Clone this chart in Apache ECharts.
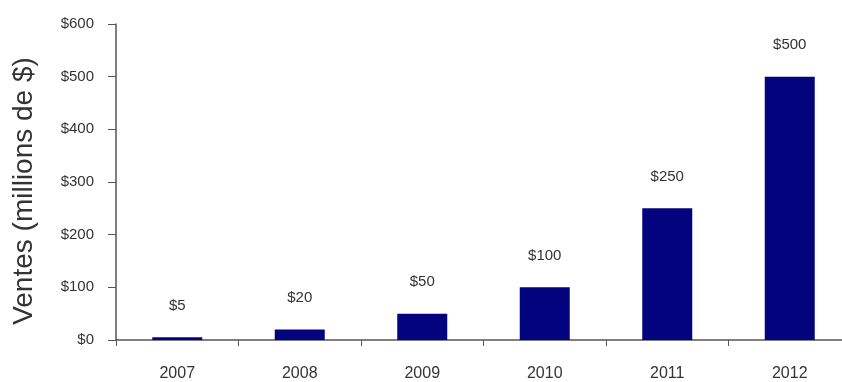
<!DOCTYPE html>
<html>
<head>
<meta charset="utf-8">
<script src="https://cdn.jsdelivr.net/npm/echarts@6/dist/echarts.min.js"></script>
<style>
  html, body { margin: 0; padding: 0; background: #fff; }
  #main { width: 842px; height: 382px; }
</style>
</head>
<body>
<div id="main"></div>
<script>
// ventes annuelles, en millions de $
const years = ['2007', '2008', '2009', '2010', '2011', '2012']
const sales = [5, 20, 50, 100, 250, 500]
const yTicks = [0, 100, 200, 300, 400, 500, 600]

const chart = echarts.init(document.getElementById('main'))
const font = '"Liberation Sans", Arial, sans-serif'

chart.setOption({
    backgroundColor: '#ffffff',
    animation: false,
    grid: {
        left: 116,
        top: 24,
        height: 316,
        width: 735,
        containLabel: false,
        outerBoundsMode: 'none'
    },
    xAxis: {
        type: 'category',
        data: years,
        axisLine: { lineStyle: { color: '#555', width: 1.5 } },
        axisTick: { show: true, length: 6, lineStyle: { color: '#555' } },
        axisLabel: { color: '#333', fontSize: 16, fontFamily: font, margin: 26 }
    },
    yAxis: {
        type: 'value',
        min: yTicks[0],
        max: yTicks[yTicks.length - 1],
        interval: 100,
        name: 'Ventes (millions de $)',
        nameLocation: 'middle',
        nameRotate: 90,
        nameGap: 78,
        nameTextStyle: { color: '#333', fontSize: 28, fontFamily: font, padding: [0, 18, 0, 0] },
        axisLine: { show: true, lineStyle: { color: '#555', width: 1.5 } },
        axisTick: { show: true, length: 8, lineStyle: { color: '#555' } },
        splitLine: { show: false },
        axisLabel: {
            color: '#333',
            fontSize: 15,
            fontFamily: font,
            margin: 22,
            formatter: v => '$' + v
        }
    },
    series: [{
        type: 'bar',
        data: sales,
        barWidth: 50,
        itemStyle: { color: '#03037d' },
        label: {
            show: true,
            position: 'top',
            distance: 24,
            color: '#333',
            fontSize: 15,
            fontFamily: font,
            formatter: p => '$' + p.value
        }
    }]
})
</script>
</body>
</html>
